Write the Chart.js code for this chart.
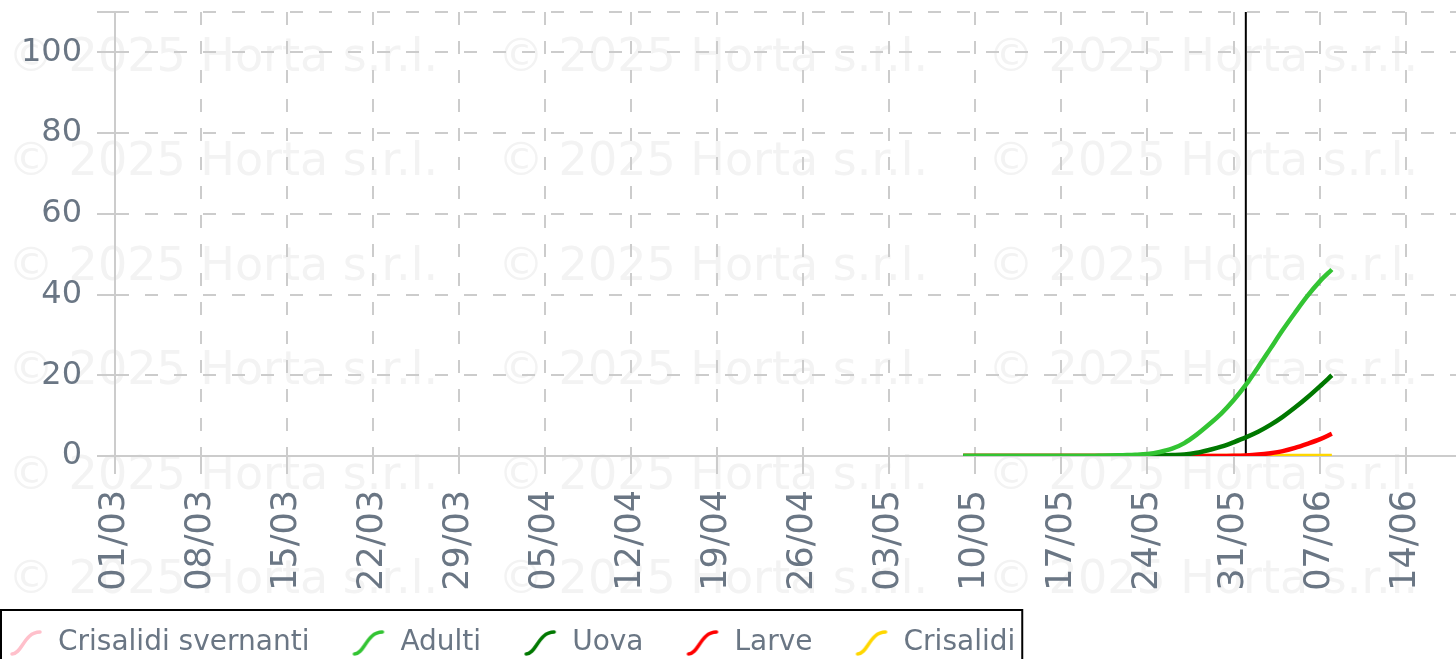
<!DOCTYPE html>
<html>
<head>
<meta charset="utf-8">
<title>Andamento stadi</title>
<script src="https://cdn.jsdelivr.net/npm/chart.js@4.4.1/dist/chart.umd.min.js"></script>
<style>
  html, body { margin: 0; padding: 0; background: #fff; overflow: hidden; }
  #wrap { position: relative; width: 1456px; height: 659px; }
</style>
</head>
<body>
<div id="wrap"><canvas id="grafico"></canvas></div>
<script>
// date del modello (gg/mm, anno 2025)
const dates = ['09/05','10/05','11/05','12/05','13/05','14/05','15/05','16/05','17/05','18/05',
               '19/05','20/05','21/05','22/05','23/05','24/05','25/05','26/05','27/05','28/05',
               '29/05','30/05','31/05','01/06','02/06','03/06','04/06','05/06','06/06','07/06','08/06'];

const crisalidiSvernanti = [];
const adulti = [0,0,0,0,0,0,0,0,0,0,0,
                0.05,0.1,0.2,0.3,0.5,1.0,1.8,3.2,5.3,7.8,10.5,13.8,17.6,22.0,26.6,31.2,35.5,39.6,43.2,46.2];
const uova = [0,0,0,0,0,0,0,0,0,0,0,0,0,
              0.05,0.08,0.1,0.15,0.25,0.4,0.8,1.5,2.3,3.4,4.6,6.0,7.7,9.7,12.0,14.5,17.2,20.0];
const larve = [0,0,0,0,0,0,0,0,0,0,0,0,0,0,0,0,0,0,0,0,0,0,
               0.05,0.15,0.35,0.7,1.2,2.0,3.0,4.1,5.5];
const crisalidi = [0,0,0,0,0,0,0,0,0,0,0,0,0,0,0,0,0,0,0,0,0,0,0,0,0,0,0,0,0,0,0];

const xTickLabels = ['01/03','08/03','15/03','22/03','29/03','05/04','12/04','19/04',
                     '26/04','03/05','10/05','17/05','24/05','31/05','07/06','14/06'];
const yTicks = [0, 20, 40, 60, 80, 100, 110];
const oggi = '01/06';
const filigranaTesto = '© 2025 Horta s.r.l.';

const FONT = '"DejaVu Sans", Verdana, sans-serif';
const grigioTesto = '#6a7684';
const grigioGriglia = '#cccccc';

// giorni dal 01/03
function giorno(s) {
  const [d, m] = s.split('/').map(Number);
  return (Date.UTC(2025, m - 1, d) - Date.UTC(2025, 2, 1)) / 86400000;
}
function punti(valori) {
  return valori.map((v, i) => ({x: giorno(dates[i]), y: v}));
}
function iconaLegenda(colore) {
  const c = document.createElement('canvas');
  c.width = 36; c.height = 28;
  const g = c.getContext('2d');
  g.strokeStyle = colore;
  g.lineWidth = 3.5;
  g.lineCap = 'round';
  g.beginPath();
  g.moveTo(4, 25);
  g.bezierCurveTo(14, 25, 16, 3, 32, 3);
  g.stroke();
  return c;
}
function serie(label, valori, colore) {
  return {
    label: label,
    data: punti(valori),
    borderColor: colore,
    backgroundColor: colore,
    borderWidth: 4.5,
    pointRadius: 0,
    pointHoverRadius: 0,
    pointStyle: iconaLegenda(colore),
    cubicInterpolationMode: 'monotone',
    fill: false
  };
}

const filigrana = {
  id: 'filigrana',
  beforeDraw(chart) {
    const ctx = chart.ctx;
    ctx.save();
    ctx.font = '46px ' + FONT;
    ctx.fillStyle = '#f3f3f3';
    for (let r = 0; r < 6; r++) {
      for (let c = 0; c < 3; c++) {
        ctx.fillText(filigranaTesto, 8 + c * 490, 59 + r * 104.5);
      }
    }
    ctx.restore();
  }
};

const lineaOggi = {
  id: 'lineaOggi',
  beforeDatasetsDraw(chart) {
    const ctx = chart.ctx;
    const x = chart.scales.x.getPixelForValue(giorno(oggi));
    const {top, bottom} = chart.chartArea;
    ctx.save();
    ctx.strokeStyle = '#000';
    ctx.lineWidth = 2;
    ctx.beginPath();
    ctx.moveTo(x, top);
    ctx.lineTo(x, bottom);
    ctx.stroke();
    ctx.restore();
  }
};

const riquadroLegenda = {
  id: 'riquadroLegenda',
  afterLayout(chart) {
    const lg = chart.legend;
    lg.left -= 33; lg.right -= 33;
    lg.top += 8; lg.bottom += 8;
    // le etichette ruotate scendono sotto l'altezza fissata dell'asse
    chart.scales.x.bottom += 40;
  },
  afterDraw(chart) {
    const lg = chart.legend;
    const pad = lg.options.labels.padding;
    const x0 = Math.max(lg.left + pad - 7, 1);
    const x1 = lg.left + lg.lineWidths[0] + 7;
    const y0 = lg.top + pad + 14 - 33;
    const ctx = chart.ctx;
    ctx.save();
    ctx.strokeStyle = '#000';
    ctx.lineWidth = 2;
    ctx.strokeRect(x0, y0, x1 - x0, 100);
    ctx.restore();
  }
};

new Chart(document.getElementById('grafico'), {
  type: 'line',
  data: {
    datasets: [
      serie('Crisalidi svernanti', crisalidiSvernanti, '#ffc0cb'),
      serie('Adulti', adulti, '#33c433'),
      serie('Uova', uova, '#007800'),
      serie('Larve', larve, '#ff0000'),
      serie('Crisalidi', crisalidi, '#ffd700')
    ]
  },
  options: {
    responsive: true,
    maintainAspectRatio: false,
    animation: false,
    layout: { padding: { top: 12, left: 0, right: 0, bottom: 0 } },
    scales: {
      x: {
        type: 'linear',
        min: 0,
        max: 109.1,
        afterBuildTicks: s => { s.ticks = xTickLabels.map(l => ({value: giorno(l)})); },
        afterFit: s => { s.height = 124; s.paddingLeft = 0; s.paddingRight = 0; },
        ticks: {
          autoSkip: false,
          minRotation: 90,
          maxRotation: 90,
          padding: 16,
          color: grigioTesto,
          font: { family: FONT, size: 35 },
          callback: (v, i) => xTickLabels[i]
        },
        grid: { color: grigioGriglia, lineWidth: 2, tickLength: 18 },
        border: { color: grigioGriglia, width: 2, dash: [13, 16] }
      },
      y: {
        min: 0,
        max: 110,
        afterBuildTicks: s => { s.ticks = yTicks.map(v => ({value: v})); },
        afterFit: s => { s.width = 115; s.paddingTop = 0; s.paddingBottom = 0; },
        ticks: {
          padding: 15,
          color: grigioTesto,
          font: { family: FONT, size: 32 },
          callback: v => (v === 110 ? '' : v)
        },
        grid: { color: grigioGriglia, lineWidth: 2, tickLength: 18 },
        border: { color: grigioGriglia, width: 2, dash: [13, 16] }
      }
    },
    plugins: {
      tooltip: { enabled: false },
      legend: {
        position: 'bottom',
        align: 'start',
        labels: {
          usePointStyle: true,
          pointStyleWidth: 36,
          padding: 41,
          color: grigioTesto,
          font: { family: FONT, size: 28 }
        }
      }
    }
  },
  plugins: [filigrana, lineaOggi, riquadroLegenda]
});
</script>
</body>
</html>
